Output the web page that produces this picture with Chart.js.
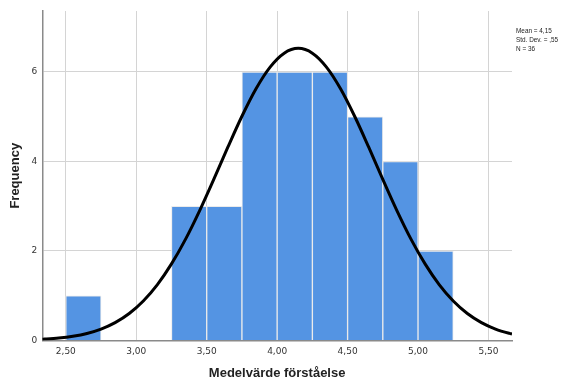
<!DOCTYPE html>
<html>
<head>
<meta charset="utf-8">
<script src="https://cdn.jsdelivr.net/npm/chart.js@4/dist/chart.umd.min.js"></script>
<style>
  html, body { margin: 0; padding: 0; background: #ffffff; }
  #wrap { position: relative; width: 581px; height: 381px; }
</style>
</head>
<body>
<div id="wrap"><canvas id="c" width="581" height="381"></canvas></div>
<script>
// Histogram bins (bin centres, width 0.25) and frequencies
const binCenters = [2.625, 3.375, 3.625, 3.875, 4.125, 4.375, 4.625, 4.875, 5.125];
const frequencies = [1, 3, 3, 6, 6, 6, 5, 4, 2];

// Fitted normal curve (Mean 4,15, SD ,55, N 36)
const curveX = [2.333, 2.35, 2.45, 2.55, 2.65, 2.75, 2.85, 2.95, 3.05, 3.15, 3.25, 3.35, 3.45, 3.55, 3.65, 3.75, 3.85, 3.95, 4.05, 4.15,
                4.25, 4.35, 4.45, 4.55, 4.65, 4.75, 4.85, 4.95, 5.05, 5.15, 5.25, 5.35, 5.45, 5.55, 5.65, 5.667];
const curveY = [0.028, 0.031, 0.055, 0.095, 0.158, 0.256, 0.400, 0.604, 0.883, 1.250, 1.712, 2.266, 2.904, 3.601, 4.319, 5.011, 5.626, 6.110, 6.421, 6.528,
                6.421, 6.110, 5.626, 5.011, 4.319, 3.601, 2.904, 2.266, 1.712, 1.250, 0.883, 0.604, 0.400, 0.256, 0.158, 0.145];

// Tick labels
const xTicks = [2.5, 3.0, 3.5, 4.0, 4.5, 5.0, 5.5];
const yTicks = [0, 2, 4, 6];

const statsLines = ['Mean = 4,15', 'Std. Dev. = ,55', 'N = 36'];
const xTitle = 'Medelvärde förståelse';
const yTitle = 'Frequency';

const histData = binCenters.map((x, i) => ({ x: x, y: frequencies[i] }));
const curveData = curveX.map((x, i) => ({ x: x, y: curveY[i] }));

const statsPlugin = {
  id: 'stats',
  afterDraw(chart) {
    const ctx = chart.ctx;
    ctx.save();
    ctx.fillStyle = '#222';
    ctx.font = '8px "Liberation Sans", Arial, sans-serif';
    ctx.textBaseline = 'top';
    ctx.textAlign = 'left';
    ctx.translate(516, 0);
    ctx.scale(0.8, 1);
    statsLines.forEach((t, i) => ctx.fillText(t, 0, 26.5 + i * 9.3));
    ctx.restore();
  }
};

new Chart(document.getElementById('c'), {
  type: 'bar',
  data: {
    datasets: [
      {
        type: 'line',
        data: curveData,
        borderColor: '#000000',
        borderWidth: 3,
        pointRadius: 0,
        fill: false,
        tension: 0.4,
        cubicInterpolationMode: 'monotone',
        order: 0
      },
      {
        type: 'bar',
        data: histData,
        backgroundColor: 'rgb(84,148,227)',
        borderColor: '#ebebeb',
        borderWidth: 1,
        barPercentage: 1,
        categoryPercentage: 1,
        order: 1
      }
    ]
  },
  options: {
    responsive: false,
    animation: false,
    devicePixelRatio: 1,
    layout: { padding: { left: 0, right: 69, top: 11, bottom: 0 } },
    plugins: { legend: { display: false }, tooltip: { enabled: false } },
    scales: {
      x: {
        type: 'linear',
        offset: false,
        min: 2.333,
        max: 5.667,
        afterBuildTicks: (s) => { s.ticks = xTicks.map(v => ({ value: v })); },
        afterFit: (s) => { s.height = 40.5; },
        grid: { color: '#d4d4d4', drawTicks: false, lineWidth: 1, offset: false },
        border: { color: '#8a8a8a', width: 1.5 },
        ticks: {
          padding: 6,
          color: '#333',
          font: { family: '"DejaVu Sans", sans-serif', size: 9 },
          maxRotation: 0,
          autoSkip: false,
          callback: (v) => Number(v).toFixed(2).replace('.', ',')
        },
        title: {
          display: true,
          text: xTitle,
          color: '#222',
          font: { family: '"Liberation Sans", Arial, sans-serif', size: 13, weight: 'bold' },
          padding: { top: 6, bottom: 0 }
        }
      },
      y: {
        min: 0,
        max: 7.363,
        afterBuildTicks: (s) => { s.ticks = yTicks.map(v => ({ value: v })); },
        afterFit: (s) => { s.width = 42.3; },
        grid: { color: '#d4d4d4', drawTicks: false, lineWidth: 1 },
        border: { color: '#8a8a8a', width: 1.5 },
        ticks: {
          padding: 5,
          color: '#333',
          font: { family: '"DejaVu Sans", sans-serif', size: 9 },
          callback: (v) => String(v)
        },
        title: {
          display: true,
          text: yTitle,
          color: '#222',
          font: { family: '"Liberation Sans", Arial, sans-serif', size: 13, weight: 'bold' },
          padding: { top: 8, bottom: 0 }
        }
      }
    }
  },
  plugins: [statsPlugin]
});
</script>
</body>
</html>
